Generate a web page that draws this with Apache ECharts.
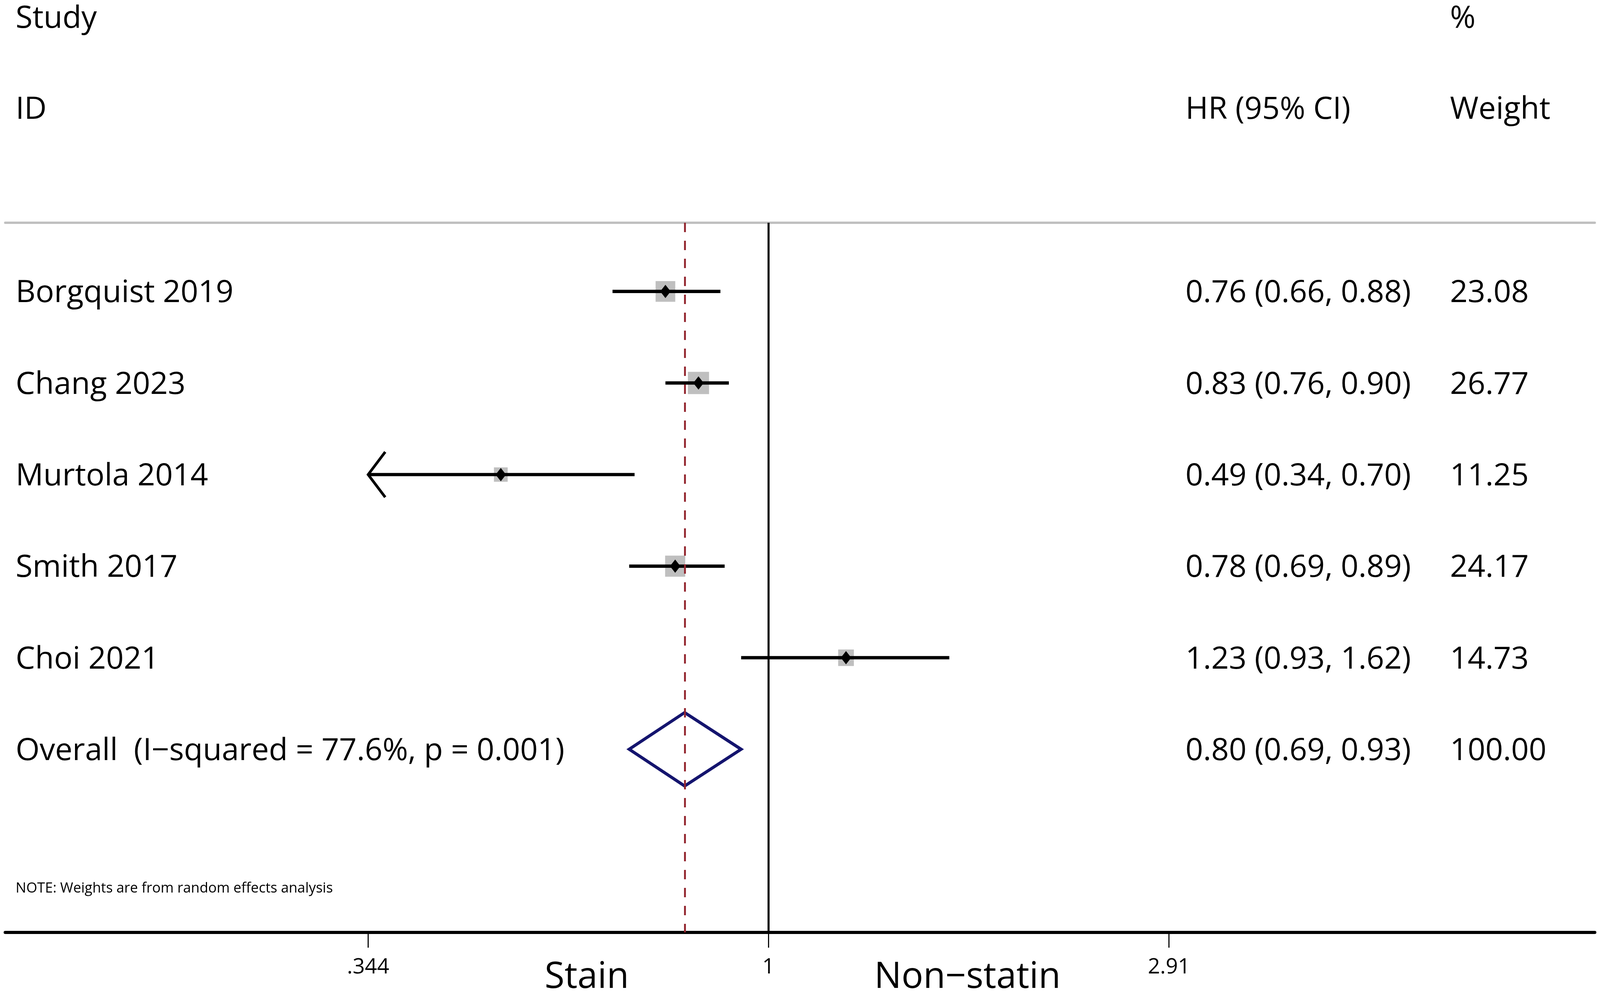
<!DOCTYPE html>
<html>
<head>
<meta charset="utf-8">
<script src="https://cdn.jsdelivr.net/npm/echarts@6/dist/echarts.min.js"></script>
<style>html,body{margin:0;padding:0;background:#fff;overflow:hidden;width:100%;height:100%}#c{width:100vw;height:100vh}</style>
</head>
<body>
<div id="c"></div>
<script>
// ---- data ----
const studies = ['Borgquist 2019', 'Chang 2023', 'Murtola 2014', 'Smith 2017', 'Choi 2021'];
const hr      = [0.76, 0.83, 0.49, 0.78, 1.23];
const lower   = [0.66, 0.76, 0.34, 0.69, 0.93];
const upper   = [0.88, 0.90, 0.70, 0.89, 1.62];
const weights = [23.08, 26.77, 11.25, 24.17, 14.73];
const overallLabel = 'Overall  (I\u2212squared = 77.6%, p = 0.001)';
const overallHR = 0.80, overallLower = 0.69, overallUpper = 0.93, overallWeight = 100.00;
const tickValues = [0.344, 1, 2.91];
const tickLabels = ['.344', '1', '2.91'];
const headerTop = ['Study', '%'];
const headerBottom = ['ID', 'HR (95% CI)', 'Weight'];
const favourLabels = ['Stain', 'Non\u2212statin'];
const noteText = 'NOTE: Weights are from random effects analysis';

// ---- layout / style (designed for 4300 x 2541, scaled to the viewport) ----
const FONT = '"Open Sans", "Noto Sans", sans-serif';
const el = document.getElementById('c');
const VW = el.clientWidth || window.innerWidth, VH = el.clientHeight || window.innerHeight;
const sx = VW / 4300, sy = VH / 2541, sf = Math.sqrt(sx * sy), sl = (sx + sy) / 2;
const X = v => v * sx, Y = v => v * sy, F = v => v * sf, L = v => v * sl;

const xMin = Math.exp(-2.0347), xMax = Math.exp(2.2034);
const colStudy = 42, colHR = 3186, colW = 3897;
const rowFont = 81;
const textShift = 5;
const clipLow = tickValues[0];

const chart = echarts.init(el, null, {renderer: 'canvas'});

const rows = studies.map((s, i) => ({
  label: s,
  hrText: hr[i].toFixed(2) + ' (' + lower[i].toFixed(2) + ', ' + upper[i].toFixed(2) + ')',
  wText: weights[i].toFixed(2)
}));
rows.push({
  label: overallLabel,
  hrText: overallHR.toFixed(2) + ' (' + overallLower.toFixed(2) + ', ' + overallUpper.toFixed(2) + ')',
  wText: overallWeight.toFixed(2)
});

// x, size in design px; y already in screen px
function txt(text, x, y, size, align) {
  return {type: 'text', style: {text: text, x: X(x), y: y + Y(textShift), fill: '#000', fontSize: F(size), fontFamily: FONT,
    align: align || 'left', verticalAlign: 'middle'}};
}

const studyData = studies.map((s, i) => [hr[i], lower[i], upper[i], i, weights[i]]);

const option = {
  backgroundColor: '#fff',
  animation: false,
  grid: {left: X(14), right: X(14), top: Y(570), bottom: Y(155), containLabel: false},
  xAxis: [{
    type: 'log', logBase: 10, min: xMin, max: xMax, position: 'bottom',
    axisLine: {show: true, onZero: false, lineStyle: {color: '#000', width: Y(8)}},
    axisTick: {show: true, length: Y(39), customValues: tickValues, lineStyle: {color: '#000', width: X(3)}},
    axisLabel: {show: true, customValues: tickValues, margin: Y(62), fontSize: F(56), fontFamily: FONT, color: '#000',
      formatter: function (v) {
        let best = 0;
        tickValues.forEach((t, k) => { if (Math.abs(Math.log(t) - Math.log(v)) < Math.abs(Math.log(tickValues[best]) - Math.log(v))) best = k; });
        return tickLabels[best];
      }},
    splitLine: {show: false}, minorTick: {show: false}
  }, {
    type: 'log', logBase: 10, min: xMin, max: xMax, position: 'top',
    axisLine: {show: true, onZero: false, lineStyle: {color: '#c0c0c0', width: Y(6)}},
    axisTick: {show: false}, axisLabel: {show: false}, splitLine: {show: false}
  }],
  yAxis: {type: 'value', min: -0.75, max: 7.0, inverse: true, show: false},
  graphic: [
    txt(headerTop[0], colStudy, Y(43), rowFont),
    txt(headerTop[1], colW, Y(43), rowFont),
    txt(headerBottom[0], colStudy, Y(276), rowFont),
    txt(headerBottom[1], colHR, Y(276), rowFont),
    txt(headerBottom[2], colW, Y(276), rowFont),
    txt(favourLabels[0], 1577, Y(2497), 95, 'center'),
    txt(favourLabels[1], 2600, Y(2497), 95, 'center')
  ],
  series: [
    {
      type: 'line', data: [], xAxisIndex: 0,
      markLine: {
        silent: true, symbol: ['none', 'none'], label: {show: false},
        data: [
          {xAxis: 1, lineStyle: {color: '#000', width: X(5.5), type: 'solid'}},
          {xAxis: overallHR, lineStyle: {color: '#93262f', width: X(5), type: [Y(24), Y(22)]}}
        ]
      }
    },
    {
      type: 'custom', xAxisIndex: 0, clip: false,
      data: studyData,
      encode: {x: 0, y: 3},
      renderItem: function (params, api) {
        const est = api.value(0), lo = api.value(1), hi = api.value(2), row = api.value(3), w = api.value(4);
        const pE = api.coord([est, row]);
        const pL = api.coord([Math.max(lo, clipLow), row]);
        const pH = api.coord([hi, row]);
        const box = 11 * Math.sqrt(w);
        const bw = X(box), bh = Y(box), dw = X(14), dh = Y(17);
        const children = [
          {type: 'rect', shape: {x: pE[0] - bw / 2, y: pE[1] - bh / 2, width: bw, height: bh}, style: {fill: '#bfbfbf'}},
          {type: 'line', shape: {x1: pL[0], y1: pL[1], x2: pH[0], y2: pH[1]}, style: {stroke: '#000', lineWidth: Y(8.4)}},
          {type: 'polygon', shape: {points: [[pE[0] - dw, pE[1]], [pE[0], pE[1] - dh], [pE[0] + dw, pE[1]], [pE[0], pE[1] + dh]]}, style: {fill: '#000'}}
        ];
        if (lo < clipLow) {
          children.push({type: 'polyline', shape: {points: [[pL[0] + X(46), pL[1] - Y(58)], [pL[0], pL[1]], [pL[0] + X(46), pL[1] + Y(58)]]},
            style: {stroke: '#000', lineWidth: L(7), fill: null}});
        }
        return {type: 'group', children: children};
      }
    },
    {
      type: 'custom', xAxisIndex: 0, clip: false,
      data: [[overallHR, overallLower, overallUpper, studies.length]],
      encode: {x: 0, y: 3},
      renderItem: function (params, api) {
        const row = api.value(3);
        const pE = api.coord([api.value(0), row]);
        const pL = api.coord([api.value(1), row]);
        const pH = api.coord([api.value(2), row]);
        const h = Y(94);
        return {type: 'polygon', shape: {points: [[pL[0], pL[1]], [pE[0], pE[1] - h], [pH[0], pH[1]], [pE[0], pE[1] + h]]},
          style: {stroke: '#14146e', lineWidth: L(8), fill: null, lineJoin: 'miter'}};
      }
    },
    {
      type: 'custom', xAxisIndex: 0, clip: false,
      data: rows.map((r, i) => [1, i]),
      encode: {x: 0, y: 1},
      renderItem: function (params, api) {
        const r = rows[params.dataIndex];
        const y = api.coord([1, api.value(1)])[1];
        return {type: 'group', children: [
          txt(r.label, colStudy, y, rowFont),
          txt(r.hrText, colHR, y, rowFont),
          txt(r.wText, colW, y, rowFont)
        ]};
      }
    },
    {
      type: 'custom', xAxisIndex: 0, clip: false,
      data: [[1, 6.5]],
      encode: {x: 0, y: 1},
      renderItem: function (params, api) {
        const y = api.coord([1, api.value(1)])[1];
        return txt(noteText, colStudy, y, 37);
      }
    }
  ]
};
chart.setOption(option);
</script>
</body>
</html>
